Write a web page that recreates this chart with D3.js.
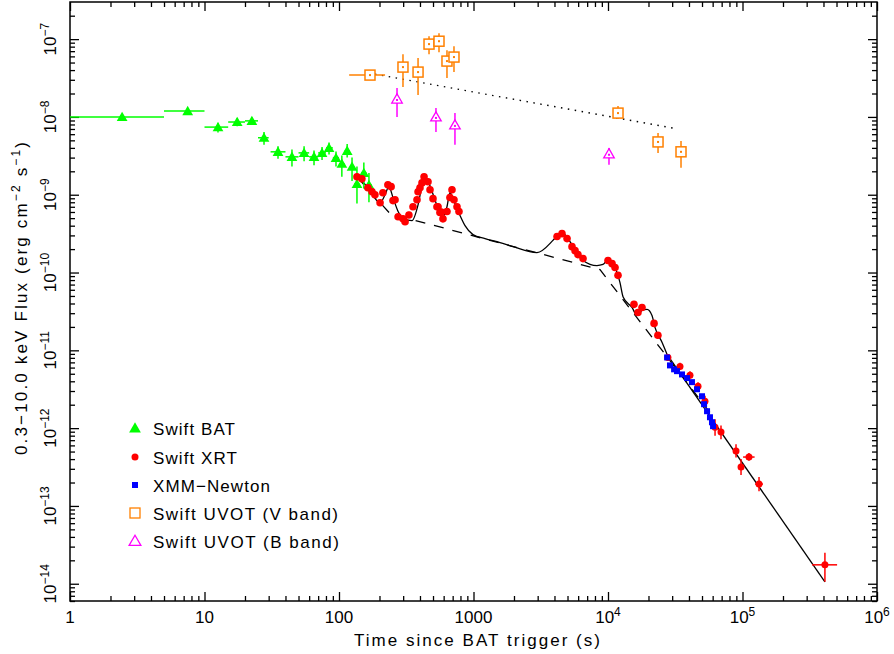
<!DOCTYPE html>
<html>
<head>
<meta charset="utf-8">
<script src="https://cdn.jsdelivr.net/npm/d3@7"></script>
<style>
  body { margin: 0; background: #fff; }
  text { font-family: "Liberation Sans", Arial, sans-serif; fill: #000; }
</style>
</head>
<body>
<div id="chart"></div>
<script>
// Swift BAT: [t, tLo, tHi, flux, fluxLo, fluxHi]
const batData = [
  [2.44, 1, 5, 1.0e-8, 0.92e-8, 1.08e-8],
  [7.5, 5, 10, 1.19e-8, 1.10e-8, 1.29e-8],
  [12.6, 10, 15, 7.4e-9, 6.3e-9, 8.4e-9],
  [17.5, 15, 20, 8.6e-9, 7.6e-9, 9.6e-9],
  [22.5, 20, 25, 8.9e-9, 8.0e-9, 9.8e-9],
  [27.7, 25, 30, 5.4e-9, 4.4e-9, 6.4e-9],
  [35.2, 31, 40, 3.56e-9, 2.9e-9, 4.2e-9],
  [44.7, 40, 50, 3.07e-9, 2.3e-9, 3.8e-9],
  [55, 50, 60, 3.45e-9, 2.7e-9, 4.2e-9],
  [65.2, 60, 70, 3.07e-9, 2.4e-9, 3.7e-9],
  [74.8, 70, 80, 3.45e-9, 2.8e-9, 4.1e-9],
  [84.3, 80, 90, 4.0e-9, 3.3e-9, 4.7e-9],
  [95, 90, 100, 2.98e-9, 2.3e-9, 3.6e-9],
  [105, 100, 110, 2.5e-9, 1.7e-9, 3.2e-9],
  [115, 110, 120, 3.67e-9, 3.0e-9, 4.5e-9],
  [125, 120, 130, 2.29e-9, 1.5e-9, 3.0e-9],
  [136, 130, 142, 1.38e-9, 0.77e-9, 2.3e-9],
  [153, 146, 160, 1.91e-9, 1.2e-9, 2.6e-9],
  [167, 160, 175, 1.34e-9, 0.8e-9, 1.9e-9]
];

// Swift XRT, dense part: [t, flux]
const xrtDense = [
  [136, 1.70e-9], [148, 1.60e-9], [164, 1.23e-9], [176, 1.09e-9], [185, 1.0e-9],
  [202, 7.9e-10], [212, 1.06e-9], [231, 1.34e-9], [244, 1.27e-9], [252, 8.4e-10],
  [261, 8.6e-10], [275, 5.2e-10], [299, 4.9e-10], [310, 4.5e-10], [331, 5.5e-10],
  [355, 7.0e-10], [380, 8.6e-10], [387, 1.09e-9], [400, 1.23e-9], [414, 1.42e-9],
  [429, 1.70e-9], [459, 1.47e-9], [475, 1.16e-9], [500, 8.9e-10], [535, 7.0e-10],
  [545, 7.0e-10], [563, 5.9e-10], [576, 6.0e-10], [593, 4.9e-10], [635, 6.1e-10],
  [668, 9.2e-10], [692, 1.16e-9], [716, 8.6e-10], [754, 7.0e-10], [780, 6.1e-10],
  [4180, 2.9e-10], [4550, 3.16e-10], [4960, 2.73e-10], [5400, 2.15e-10], [5690, 1.91e-10],
  [5980, 1.70e-10], [6520, 1.51e-10], [10000, 1.43e-10], [10720, 1.30e-10], [11280, 1.16e-10],
  [11870, 9.2e-11], [15600, 3.9e-11], [16700, 3.07e-11], [17900, 3.56e-11], [22000, 2.22e-11],
  [23500, 1.56e-11]
];
const xrtDenseErr = 0.04; // dex, flux error of the dense points

// Swift XRT, late part: [t, tLo, tHi, flux, fluxLo, fluxHi]
const xrtLate = [
  [27900, 27000, 28800, 8.1e-12, 7.3e-12, 9.0e-12],
  [34300, 33300, 35300, 6.2e-12, 5.6e-12, 6.9e-12],
  [40700, 39500, 42000, 4.8e-12, 4.3e-12, 5.4e-12],
  [46700, 45300, 48100, 3.45e-12, 3.0e-12, 3.9e-12],
  [52600, 51000, 54200, 2.22e-12, 1.85e-12, 2.6e-12],
  [62500, 60000, 65000, 1.03e-12, 0.80e-12, 1.3e-12],
  [69200, 66000, 72500, 8.9e-13, 7.2e-13, 1.08e-12],
  [89500, 85000, 94000, 5.1e-13, 4.2e-13, 6.2e-13],
  [97500, 93000, 102000, 3.16e-13, 2.5e-13, 4.0e-13],
  [111700, 101000, 123000, 4.25e-13, 3.8e-13, 4.8e-13],
  [132700, 124000, 142000, 1.91e-13, 1.55e-13, 2.35e-13],
  [410000, 329000, 505000, 1.75e-14, 1.06e-14, 2.5e-14]
];

// XMM-Newton: [t, flux]
const xmmData = [
  [27500, 8.1e-12], [28900, 6.4e-12], [31000, 5.7e-12], [32600, 5.4e-12], [35500, 4.9e-12],
  [38700, 4.4e-12], [42100, 3.9e-12], [45900, 3.16e-12], [50000, 2.57e-12], [51800, 2.03e-12],
  [54500, 1.65e-12], [57300, 1.38e-12], [59300, 1.19e-12], [60400, 1.06e-12]
];

// Swift UVOT V band: [t, tLo, tHi, flux, fluxLo, fluxHi]
const uvotV = [
  [170, 119, 220, 3.45e-8, 3.1e-8, 3.8e-8],
  [299, 299, 299, 4.37e-8, 2.43e-8, 6.4e-8],
  [387, 387, 387, 3.77e-8, 1.91e-8, 5.7e-8],
  [467, 467, 467, 8.63e-8, 6.4e-8, 1.09e-7],
  [554, 554, 554, 9.4e-8, 6.8e-8, 1.19e-7],
  [635, 635, 635, 5.22e-8, 3.16e-8, 7.2e-8],
  [716, 716, 716, 5.88e-8, 3.77e-8, 8.1e-8],
  [11870, 11870, 11870, 1.12e-8, 9.4e-9, 1.38e-8],
  [23550, 23550, 23550, 4.77e-9, 3.45e-9, 6.2e-9],
  [34900, 34900, 34900, 3.56e-9, 2.22e-9, 4.9e-9]
];

// Swift UVOT B band: [t, flux, fluxLo, fluxHi]
const uvotB = [
  [270, 1.70e-8, 1.0e-8, 2.36e-8],
  [526, 1.0e-8, 6.4e-9, 1.30e-8],
  [728, 7.9e-9, 4.4e-9, 1.12e-8],
  [10170, 3.36e-9, 2.43e-9, 4.0e-9]
];

// model curves: [t, flux]
const modelCurve = [
  [136, 1.75e-9], [164, 1.23e-9], [202, 7.9e-10], [220, 1.0e-9], [235, 1.27e-9],
  [252, 9.2e-10], [275, 6.1e-10], [304, 4.9e-10], [349, 4.65e-10], [387, 7.4e-10],
  [414, 1.30e-9], [436, 1.70e-9], [475, 1.30e-9], [526, 7.9e-10], [593, 5.2e-10],
  [635, 7.0e-10], [668, 1.06e-9], [728, 7.7e-10], [794, 5.4e-10], [865, 4.0e-10],
  [991, 3.07e-10], [1218, 2.73e-10], [1574, 2.43e-10], [1967, 2.15e-10], [2966, 1.80e-10],
  [4180, 2.9e-10], [4550, 3.26e-10], [5400, 2.29e-10], [6520, 1.43e-10], [8280, 1.23e-10],
  [9180, 1.27e-10], [10000, 1.47e-10], [11090, 1.23e-10], [12280, 7.4e-11], [12930, 4.9e-11],
  [15080, 3.56e-11], [16440, 2.81e-11], [17900, 3.26e-11], [19500, 3.36e-11], [21240, 2.81e-11],
  [22350, 1.97e-11], [25200, 1.27e-11], [27460, 8.9e-12]
];
const modelTail = [[27460, 8.9e-12], [410000, 1.06e-14]];
const powerLaw = [[136, 1.70e-9], [240, 5.7e-10], [8720, 1.09e-10], [62500, 1.30e-12]];
const opticalFit = [[185, 3.55e-8], [33100, 7.0e-9]];

const legendLabels = ["Swift BAT", "Swift XRT", "XMM\u2212Newton", "Swift UVOT (V band)", "Swift UVOT (B band)"];

const W = 894, H = 654;
const mLeft = 70, mRight = 877, mTop = 2, mBottom = 601;

const svg = d3.select("#chart").append("svg")
  .attr("width", W).attr("height", H);

const x = d3.scaleLog().domain([1, 1e6]).range([mLeft, mRight]);
const y = d3.scaleLog().domain([6e-15, 3e-7]).range([mBottom, mTop]);

// tick values
const xMajor = d3.range(0, 7).map(k => Math.pow(10, k));
const xMinor = [];
d3.range(0, 6).forEach(k => d3.range(2, 10).forEach(m => xMinor.push(m * Math.pow(10, k))));
const yMajor = d3.range(-14, -6).map(k => Math.pow(10, k));
const yMinor = [];
d3.range(-15, -6).forEach(k => d3.range(2, 10).forEach(m => {
  const v = m * Math.pow(10, k);
  if (v > 6e-15 && v < 3e-7) yMinor.push(v);
}));

function drawAxis(axis, tr) {
  const g = svg.append("g").attr("transform", tr).call(axis);
  g.select(".domain").remove();
  g.selectAll(".tick line").attr("stroke", "#000").attr("stroke-width", 1.3);
}
drawAxis(d3.axisBottom(x).tickValues(xMajor).tickSize(-9).tickFormat(""), `translate(0,${mBottom})`);
drawAxis(d3.axisBottom(x).tickValues(xMinor).tickSize(-5).tickFormat(""), `translate(0,${mBottom})`);
drawAxis(d3.axisTop(x).tickValues(xMajor).tickSize(-9).tickFormat(""), `translate(0,${mTop})`);
drawAxis(d3.axisTop(x).tickValues(xMinor).tickSize(-5).tickFormat(""), `translate(0,${mTop})`);
drawAxis(d3.axisLeft(y).tickValues(yMajor).tickSize(-9).tickFormat(""), `translate(${mLeft},0)`);
drawAxis(d3.axisLeft(y).tickValues(yMinor).tickSize(-5).tickFormat(""), `translate(${mLeft},0)`);
drawAxis(d3.axisRight(y).tickValues(yMajor).tickSize(-9).tickFormat(""), `translate(${mRight},0)`);
drawAxis(d3.axisRight(y).tickValues(yMinor).tickSize(-5).tickFormat(""), `translate(${mRight},0)`);

svg.append("rect")
  .attr("x", mLeft).attr("y", mTop)
  .attr("width", mRight - mLeft).attr("height", mBottom - mTop)
  .attr("fill", "none").attr("stroke", "#000").attr("stroke-width", 1.5);

// x tick labels
xMajor.forEach((v, k) => {
  const t = svg.append("text")
    .attr("x", x(v)).attr("y", 623)
    .attr("text-anchor", "middle")
    .style("font-size", "17px");
  if (k < 4) {
    t.text(String(v));
  } else {
    t.append("tspan").text("10");
    t.append("tspan").attr("dy", -7).style("font-size", "12px").text(k);
  }
});

// y tick labels (rotated)
yMajor.forEach(v => {
  const k = Math.round(Math.log10(v));
  const t = svg.append("text")
    .attr("transform", `translate(56,${y(v)}) rotate(-90)`)
    .attr("text-anchor", "middle")
    .style("font-size", "17px");
  t.append("tspan").text("10");
  t.append("tspan").attr("dy", -7).style("font-size", "12px").text("\u2212" + Math.abs(k));
});

// axis titles
svg.append("text")
  .attr("x", 354).attr("y", 646)
  .attr("textLength", 246).attr("lengthAdjust", "spacing")
  .style("font-size", "17px")
  .text("Time since BAT trigger (s)");

const yt = svg.append("text")
  .attr("transform", "translate(27,455) rotate(-90)")
  .attr("textLength", 313).attr("lengthAdjust", "spacing")
  .style("font-size", "17px");
yt.append("tspan").text("0.3\u221210.0 keV Flux (erg cm");
yt.append("tspan").attr("dy", -7).style("font-size", "12px").text("\u22122");
yt.append("tspan").attr("dy", 7).text(" s");
yt.append("tspan").attr("dy", -7).style("font-size", "12px").text("\u22121");
yt.append("tspan").attr("dy", 7).text(")");

// model lines
const line = d3.line().x(d => x(d[0])).y(d => y(d[1]));
svg.append("path").datum(opticalFit)
  .attr("d", line).attr("fill", "none")
  .attr("stroke", "#000").attr("stroke-width", 1.4)
  .attr("stroke-dasharray", "1.5,5.5");
svg.append("path").datum(powerLaw)
  .attr("d", line).attr("fill", "none")
  .attr("stroke", "#000").attr("stroke-width", 1.3)
  .attr("stroke-dasharray", "10,9");
svg.append("path").datum(modelTail)
  .attr("d", line).attr("fill", "none")
  .attr("stroke", "#000").attr("stroke-width", 1.3);
svg.append("path").datum(modelCurve)
  .attr("d", d3.line().x(d => x(d[0])).y(d => y(d[1])).curve(d3.curveMonotoneX))
  .attr("fill", "none")
  .attr("stroke", "#000").attr("stroke-width", 1.3);

// error bars helper
function errBars(data, color, acc) {
  const g = svg.append("g").attr("stroke", color).attr("stroke-width", 1.5);
  data.forEach(d => {
    const e = acc(d);
    if (e.fLo !== e.fHi) {
      g.append("line").attr("x1", x(e.t)).attr("x2", x(e.t))
        .attr("y1", y(e.fLo)).attr("y2", y(e.fHi));
    }
    if (e.tLo !== e.tHi) {
      g.append("line").attr("x1", x(e.tLo)).attr("x2", x(e.tHi))
        .attr("y1", y(e.f)).attr("y2", y(e.f));
    }
  });
}

const green = "#00ff00", red = "#ff0000", blue = "#0000ff", orange = "#ff8000", magenta = "#ff00ff";
const triangle = d3.symbol().type(d3.symbolTriangle);

// BAT
errBars(batData, green, d => ({t: d[0], tLo: d[1], tHi: d[2], f: d[3], fLo: d[4], fHi: d[5]}));
svg.append("g").selectAll("path").data(batData).join("path")
  .attr("d", triangle.size(50)())
  .attr("transform", d => `translate(${x(d[0])},${y(d[3]) + 1})`)
  .attr("fill", green);

// UVOT V
errBars(uvotV, orange, d => ({t: d[0], tLo: d[1], tHi: d[2], f: d[3], fLo: d[4], fHi: d[5]}));
svg.append("g").selectAll("rect").data(uvotV).join("rect")
  .attr("x", d => x(d[0]) - 5).attr("y", d => y(d[3]) - 5)
  .attr("width", 10).attr("height", 10)
  .attr("fill", "#fff").attr("stroke", orange).attr("stroke-width", 1.5);
svg.append("g").selectAll("rect").data(uvotV).join("rect")
  .attr("x", d => x(d[0]) - 1).attr("y", d => y(d[3]) - 1)
  .attr("width", 2).attr("height", 2).attr("fill", orange);

// UVOT B
errBars(uvotB, magenta, d => ({t: d[0], tLo: d[0], tHi: d[0], f: d[1], fLo: d[2], fHi: d[3]}));
svg.append("g").selectAll("path").data(uvotB).join("path")
  .attr("d", triangle.size(48)())
  .attr("transform", d => `translate(${x(d[0])},${y(d[1]) + 1})`)
  .attr("fill", "#fff").attr("stroke", magenta).attr("stroke-width", 1.3);
svg.append("g").selectAll("rect").data(uvotB).join("rect")
  .attr("x", d => x(d[0]) - 1).attr("y", d => y(d[1]))
  .attr("width", 2).attr("height", 2).attr("fill", magenta);

// XRT
errBars(xrtDense, red, d => ({t: d[0], tLo: d[0] * 0.985, tHi: d[0] * 1.015, f: d[1],
  fLo: d[1] / Math.pow(10, xrtDenseErr), fHi: d[1] * Math.pow(10, xrtDenseErr)}));
errBars(xrtLate, red, d => ({t: d[0], tLo: d[1], tHi: d[2], f: d[3], fLo: d[4], fHi: d[5]}));
svg.append("g").selectAll("circle").data(xrtDense).join("circle")
  .attr("cx", d => x(d[0])).attr("cy", d => y(d[1])).attr("r", 3.8)
  .attr("fill", red);
svg.append("g").selectAll("circle").data(xrtLate).join("circle")
  .attr("cx", d => x(d[0])).attr("cy", d => y(d[3])).attr("r", 3.5)
  .attr("fill", red);

// XMM
svg.append("g").selectAll("rect").data(xmmData).join("rect")
  .attr("x", d => x(d[0]) - 3).attr("y", d => y(d[1]) - 3)
  .attr("width", 6).attr("height", 6).attr("fill", blue);

// legend
const legRows = [428, 457, 485, 513, 541];
const legWidths = [82, 84, 117, 185, 186];
const leg = svg.append("g");
leg.append("path").attr("d", triangle.size(60)())
  .attr("transform", `translate(135,${legRows[0] + 1})`).attr("fill", green);
leg.append("circle").attr("cx", 135).attr("cy", legRows[1]).attr("r", 3.5).attr("fill", red);
leg.append("rect").attr("x", 132).attr("y", legRows[2] - 3).attr("width", 6).attr("height", 6).attr("fill", blue);
leg.append("rect").attr("x", 130).attr("y", legRows[3] - 5).attr("width", 10).attr("height", 10)
  .attr("fill", "none").attr("stroke", orange).attr("stroke-width", 1.3);
leg.append("path").attr("d", triangle.size(60)())
  .attr("transform", `translate(135,${legRows[4] + 1})`)
  .attr("fill", "none").attr("stroke", magenta).attr("stroke-width", 1.3);
legendLabels.forEach((s, i) => {
  leg.append("text")
    .attr("x", 153).attr("y", legRows[i] + 7)
    .attr("textLength", legWidths[i]).attr("lengthAdjust", "spacing")
    .style("font-size", "17px")
    .text(s);
});
</script>
</body>
</html>
